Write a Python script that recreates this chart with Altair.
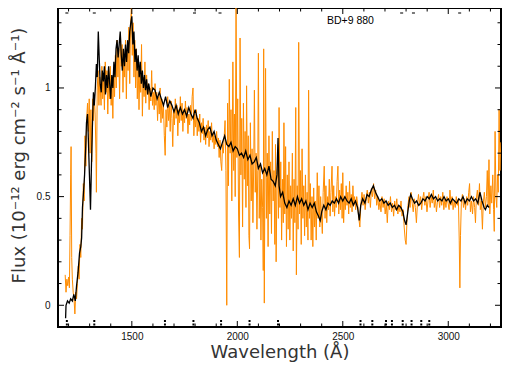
import altair as alt
import pandas as pd

# ---------------- data ----------------
black_wl = [1186, 1188, 1195, 1203, 1210, 1218, 1225, 1232, 1238, 1245, 1252, 1258, 1262, 1266, 1271,
            1276, 1281, 1285, 1290, 1294, 1299, 1304, 1308, 1313, 1318, 1322, 1327, 1332, 1336, 1341,
            1346, 1350, 1355, 1360, 1365, 1370, 1375, 1380, 1385, 1390, 1395, 1400, 1405, 1410, 1415,
            1420, 1425, 1430, 1435, 1440, 1445, 1450, 1455, 1460, 1465, 1470, 1475, 1480, 1485, 1490,
            1495, 1500, 1505, 1510, 1515, 1520, 1525, 1530, 1535, 1540, 1545, 1550, 1555, 1560, 1565,
            1570, 1575, 1580, 1590, 1600, 1610, 1620, 1630, 1640, 1650, 1660, 1670, 1680, 1690, 1700,
            1710, 1720, 1730, 1740, 1750, 1760, 1770, 1780, 1790, 1800, 1810, 1820, 1830, 1840, 1850,
            1860, 1870, 1880, 1890, 1900, 1910, 1920, 1930, 1940, 1950, 1960, 1970, 1980, 1990, 2000,
            2010, 2020, 2030, 2040, 2050, 2060, 2070, 2080, 2090, 2100, 2110, 2120, 2130, 2140, 2150,
            2160, 2170, 2180, 2188, 2193, 2198, 2205, 2215, 2225, 2235, 2245, 2255, 2265, 2275, 2285,
            2295, 2305, 2315, 2325, 2335, 2345, 2355, 2365, 2375, 2385, 2393, 2400, 2410, 2420, 2430,
            2440, 2450, 2460, 2470, 2480, 2490, 2500, 2510, 2520, 2530, 2540, 2550, 2560, 2570, 2578,
            2585, 2594, 2605, 2615, 2625, 2635, 2645, 2655, 2665, 2675, 2685, 2695, 2705, 2715, 2725,
            2735, 2745, 2755, 2765, 2775, 2785, 2793, 2800, 2807, 2815, 2822, 2830, 2840, 2850, 2860,
            2870, 2880, 2890, 2900, 2910, 2920, 2930, 2940, 2950, 2960, 2970, 2980, 2990, 3000, 3010,
            3020, 3030, 3040, 3050, 3060, 3070, 3080, 3090, 3100, 3110, 3120, 3130, 3140, 3150, 3160,
            3170, 3176, 3185, 3194]
black_flux = [-0.06, 0.00, 0.02, 0.01, 0.03, 0.02, 0.05, 0.02, 0.09, 0.15, 0.24, 0.27, 0.31, 0.45, 0.52,
              0.60, 0.72, 0.84, 0.88, 0.76, 0.60, 0.44, 0.62, 0.82, 0.98, 0.92, 1.00, 1.11, 1.05, 1.26,
              1.12, 1.02, 0.98, 1.08, 1.03, 1.10, 0.97, 1.06, 1.00, 1.10, 1.02, 0.95, 1.06, 1.00, 1.12,
              1.05, 1.18, 1.22, 1.14, 1.20, 1.26, 1.15, 1.08, 1.18, 1.10, 1.20, 1.12, 1.22, 1.16, 1.26,
              1.30, 1.33, 1.20, 1.26, 1.12, 1.18, 1.08, 1.15, 1.05, 1.12, 1.02, 1.08, 1.00, 1.06, 0.99,
              1.04, 0.97, 1.02, 0.96, 1.00, 0.99, 0.95, 0.98, 0.95, 0.92, 0.96, 0.91, 0.94, 0.92, 0.89,
              0.92, 0.88, 0.91, 0.88, 0.90, 0.87, 0.91, 0.88, 0.86, 0.90, 0.86, 0.84, 0.80, 0.82, 0.78,
              0.81, 0.82, 0.78, 0.80, 0.76, 0.74, 0.72, 0.75, 0.78, 0.74, 0.73, 0.75, 0.71, 0.73, 0.72,
              0.69, 0.70, 0.68, 0.71, 0.67, 0.69, 0.65, 0.66, 0.68, 0.63, 0.65, 0.61, 0.63, 0.60, 0.64,
              0.58, 0.57, 0.55, 0.60, 0.77, 0.55, 0.50, 0.52, 0.47, 0.45, 0.48, 0.46, 0.49, 0.46, 0.50,
              0.47, 0.49, 0.46, 0.48, 0.44, 0.47, 0.45, 0.47, 0.43, 0.41, 0.39, 0.43, 0.46, 0.44, 0.47,
              0.46, 0.48, 0.47, 0.49, 0.47, 0.50, 0.48, 0.50, 0.48, 0.47, 0.49, 0.46, 0.48, 0.45, 0.39,
              0.46, 0.49, 0.47, 0.51, 0.50, 0.53, 0.55, 0.52, 0.50, 0.48, 0.49, 0.47, 0.48, 0.46, 0.47,
              0.45, 0.46, 0.44, 0.46, 0.45, 0.43, 0.39, 0.37, 0.42, 0.48, 0.51, 0.49, 0.47, 0.48, 0.46,
              0.47, 0.49, 0.48, 0.50, 0.49, 0.51, 0.49, 0.50, 0.48, 0.49, 0.48, 0.50, 0.48, 0.49, 0.47,
              0.49, 0.48, 0.47, 0.49, 0.48, 0.50, 0.47, 0.49, 0.48, 0.50, 0.48, 0.49, 0.47, 0.52, 0.48,
              0.45, 0.44, 0.46, 0.45]

orange_wl = [1184, 1188, 1192, 1196, 1200, 1204, 1207, 1210, 1212, 1215, 1218, 1222, 1226, 1230, 1234,
             1238, 1242, 1246, 1250, 1254, 1258, 1262, 1266, 1270, 1274, 1278, 1282, 1286, 1290, 1294,
             1298, 1302, 1306, 1310, 1314, 1318, 1322, 1326, 1330, 1332, 1336, 1340, 1344, 1348,
             1354, 1358, 1362, 1366, 1370, 1374, 1378, 1382, 1386, 1390, 1394, 1398, 1402, 1406, 1410,
             1414, 1418, 1422, 1426, 1430, 1434, 1438, 1442, 1446, 1450, 1454, 1458, 1462, 1466, 1470,
             1474, 1478, 1482, 1486, 1490, 1494, 1498, 1502, 1506, 1510, 1514, 1518, 1522, 1526, 1530,
             1534, 1538, 1542, 1546, 1550, 1554, 1558, 1562, 1566, 1570, 1574, 1578, 1582, 1586, 1590,
             1594, 1598, 1602, 1606, 1610, 1614, 1618, 1622, 1626, 1630, 1634, 1638, 1642, 1646, 1650,
             1654, 1658, 1662, 1666, 1670, 1674, 1678, 1682, 1686, 1690, 1694, 1698, 1702, 1706, 1710,
             1714, 1718, 1722, 1726, 1730, 1734, 1738, 1742, 1746, 1750, 1754, 1758, 1762, 1766, 1770,
             1774, 1778, 1782, 1786, 1790, 1794, 1798, 1802, 1806, 1810, 1814, 1818, 1822, 1826, 1830,
             1834, 1838, 1842, 1846, 1850, 1854, 1858, 1862, 1866, 1870, 1874, 1878, 1882, 1886, 1890,
             1894, 1898, 1902, 1906, 1910, 1914, 1918, 1922, 1926, 1930, 1934, 1938, 1942, 1946, 1950,
             1954, 1958, 1962, 1966, 1970, 1974, 1979, 1983, 1987, 1990, 1994, 1998, 2002, 2006, 2010,
             2013, 2017, 2021, 2025, 2029, 2033, 2037, 2041, 2044, 2048, 2052, 2055, 2058, 2062, 2066,
             2070, 2074, 2078, 2081, 2085, 2089, 2093, 2097, 2100, 2104, 2108, 2112, 2116, 2120, 2123,
             2125, 2128, 2131, 2134, 2138, 2142, 2146, 2150, 2154, 2158, 2162, 2166, 2170, 2174, 2178,
             2181, 2184, 2188, 2192, 2195, 2198, 2202, 2206, 2210, 2214, 2218, 2221, 2225, 2229, 2233,
             2237, 2241, 2245, 2249, 2253, 2257, 2261, 2265, 2269, 2273, 2277, 2280, 2284, 2288, 2291,
             2295, 2299, 2303, 2307, 2311, 2315, 2319, 2323, 2327, 2331, 2335, 2338, 2342, 2346, 2350,
             2354, 2358, 2362, 2366, 2370, 2374, 2379, 2383, 2387, 2391, 2395, 2399, 2403, 2407, 2412,
             2416, 2420, 2424, 2428, 2432, 2436, 2440, 2444, 2449, 2453, 2457, 2461, 2465, 2469, 2473,
             2477, 2481, 2485, 2489, 2493, 2497, 2500, 2504, 2508, 2512, 2516, 2520, 2524, 2528, 2532,
             2536, 2540, 2544, 2548, 2552, 2556, 2561, 2566, 2571, 2576, 2581, 2586, 2591, 2596, 2601,
             2606, 2611, 2616, 2621, 2626, 2631, 2636, 2641, 2646, 2651, 2656, 2661, 2666, 2671, 2676,
             2681, 2686, 2691, 2696, 2701, 2706, 2711, 2716, 2721, 2726, 2731, 2736, 2741, 2746, 2751,
             2756, 2761, 2766, 2771, 2776, 2781, 2786, 2791, 2796, 2800, 2804, 2809, 2814, 2819, 2824,
             2829, 2834, 2839, 2844, 2849, 2854, 2859, 2864, 2869, 2874, 2879, 2884, 2889, 2894, 2899,
             2904, 2909, 2914, 2919, 2924, 2929, 2934, 2939, 2944, 2949, 2954, 2959, 2964, 2969, 2974,
             2979, 2984, 2989, 2994, 2999, 3004, 3008, 3013, 3018, 3023, 3028, 3033, 3038, 3043, 3048,
             3052, 3055, 3058, 3062, 3067, 3072, 3077, 3082, 3087, 3092, 3097, 3101, 3105, 3110, 3115,
             3120, 3125, 3129, 3133, 3138, 3143, 3148, 3152, 3157, 3162, 3166, 3171, 3176, 3181, 3185,
             3189, 3193, 3197, 3202, 3206, 3211, 3215, 3218, 3222, 3226, 3230, 3233, 3237, 3241, 3245,
             3249]
orange_flux = [0.14, 0.06, 0.12, 0.09, 0.13, 0.08, 0.32, 0.60, 0.73, 0.22, 0.12, 0.06, 0.03, -0.04, 0.06,
               0.03, 0.10, 0.18, 0.12, 0.28, 0.22, 0.40, 0.35, 0.56, 0.48, 0.78, 0.64, 0.86, 0.93, 0.80,
               0.95, 0.70, 0.90, 0.66, 0.95, 0.85, 0.96, 0.88, 0.70, 0.52, 1.00, 1.08, 0.92, 1.05,
               0.92, 1.10, 0.95, 1.05, 0.90, 1.12, 0.98, 1.08, 0.88, 1.04, 0.95, 1.10, 0.92, 1.02, 0.86,
               1.08, 0.96, 1.15, 1.00, 1.22, 1.05, 1.18, 0.95, 1.25, 1.10, 1.20, 0.98, 1.15, 1.05, 1.22,
               0.95, 1.18, 1.08, 1.28, 1.02, 1.30, 1.37, 1.15, 1.30, 1.05, 1.22, 1.00, 1.18, 0.95, 1.12,
               0.90, 1.08, 0.98, 1.20, 0.87, 1.05, 0.96, 1.12, 0.93, 1.06, 0.97, 1.02, 0.90, 1.00, 0.94,
               1.08, 0.92, 0.98, 0.90, 1.02, 0.92, 0.98, 0.85, 0.96, 0.88, 1.00, 0.84, 0.95, 0.86, 0.92,
               0.78, 0.69, 0.90, 0.82, 0.96, 0.85, 0.92, 0.80, 0.94, 0.86, 0.73, 0.90, 0.83, 0.95, 0.86,
               0.92, 0.78, 0.90, 0.84, 0.96, 0.85, 0.93, 0.80, 0.90, 0.84, 0.94, 0.86, 0.91, 0.79, 0.88,
               0.83, 0.92, 0.85, 0.96, 1.00, 0.78, 0.88, 0.82, 0.90, 0.78, 0.86, 0.80, 0.88, 0.75, 0.84,
               0.79, 0.86, 0.76, 0.82, 0.74, 0.83, 0.77, 0.85, 0.73, 0.80, 0.76, 0.84, 0.75, 0.79, 0.72,
               0.78, 0.74, 0.80, 0.73, 0.77, 0.68, 0.76, 0.66, 0.62, 0.74, 0.70, 0.78, 0.85, 0.62, 0.00,
               0.93, 0.55, 1.04, 0.70, 0.90, 0.48, 1.12, 0.62, 0.88, 0.50, 1.42, 0.68, 0.95, 0.42, 0.22,
               1.23, 0.60, 0.86, 0.36, 0.93, 0.58, 0.80, 0.45, 1.01, 0.55, 0.78, 0.32, 0.26, 0.84, 0.48,
               0.72, 0.38, 0.66, 0.99, 0.52, 0.70, 0.35, 0.62, 1.16, 0.40, 0.64, 0.30, 0.58, 0.45, 0.16,
               1.18, 0.01, 0.62, 1.09, 0.40, 0.70, 0.27, 0.78, 0.42, 0.66, 0.33, 0.80, 0.48, 0.62, 0.28,
               0.74, 0.20, 0.58, 0.70, 0.40, 0.91, 0.45, 0.66, 0.30, 0.58, 0.38, 0.84, 0.42, 0.73, 0.27,
               0.60, 0.35, 0.66, 0.30, 0.55, 0.40, 0.70, 0.25, 0.58, 0.38, 0.91, 0.14, 0.55, 0.35, 1.21,
               0.42, 0.62, 0.28, 0.72, 0.40, 0.55, 0.32, 0.60, 0.36, 0.52, 0.30, 0.99, 0.40, 0.56, 0.30,
               0.50, 0.27, 0.54, 0.36, 0.48, 0.30, 0.61, 0.40, 0.55, 0.36, 0.50, 0.42, 0.33, 0.52, 0.64,
               0.40, 0.55, 0.38, 0.50, 0.44, 0.58, 0.41, 0.52, 0.64, 0.43, 0.55, 0.41, 0.50, 0.45, 0.57,
               0.64, 0.42, 0.53, 0.44, 0.56, 0.40, 0.61, 0.38, 0.50, 0.44, 0.55, 0.46, 0.52, 0.42, 0.57,
               0.45, 0.51, 0.43, 0.55, 0.46, 0.50, 0.44, 0.50, 0.46, 0.40, 0.36, 0.47, 0.52, 0.46, 0.51,
               0.44, 0.49, 0.53, 0.47, 0.52, 0.45, 0.54, 0.50, 0.56, 0.49, 0.53, 0.46, 0.50, 0.44, 0.48,
               0.43, 0.50, 0.45, 0.49, 0.42, 0.47, 0.38, 0.48, 0.44, 0.50, 0.43, 0.47, 0.41, 0.48, 0.44,
               0.49, 0.42, 0.46, 0.43, 0.48, 0.41, 0.44, 0.36, 0.30, 0.28, 0.38, 0.46, 0.50, 0.45, 0.52,
               0.47, 0.43, 0.49, 0.45, 0.38, 0.47, 0.51, 0.46, 0.50, 0.44, 0.49, 0.52, 0.46, 0.50, 0.43,
               0.48, 0.52, 0.45, 0.50, 0.47, 0.53, 0.45, 0.49, 0.43, 0.48, 0.51, 0.45, 0.50, 0.46, 0.52,
               0.44, 0.49, 0.45, 0.50, 0.47, 0.44, 0.53, 0.46, 0.50, 0.44, 0.48, 0.45, 0.50, 0.46, 0.49,
               0.30, 0.08, 0.32, 0.47, 0.51, 0.45, 0.49, 0.44, 0.50, 0.46, 0.52, 0.56, 0.43, 0.48, 0.42,
               0.50, 0.45, 0.38, 0.49, 0.53, 0.46, 0.56, 0.44, 0.48, 0.35, 0.47, 0.52, 0.45, 0.50, 0.62,
               0.46, 0.67, 0.42, 0.55, 0.47, 0.60, 0.44, 0.34, 0.80, 0.50, 0.45, 0.60, 0.52, 0.90, 0.62,
               0.75]

# axis tick values
x_major = [1500, 2000, 2500, 3000]
x_minor = [1200, 1300, 1400, 1600, 1700, 1800, 1900, 2100, 2200, 2300, 2400, 2600, 2700, 2800,
           2900, 3100, 3200]
y_major = [0, 0.5, 1]
y_minor = [0.1, 0.2, 0.3, 0.4, 0.6, 0.7, 0.8, 0.9, 1.1, 1.2, 1.3]

# flagged wavelengths marked along the bottom and top edges
flags_bottom = [1192, 1322, 1657, 1792, 1923, 2058, 2193, 2584, 2640, 2705, 2733, 2784, 2826, 2872, 2910]
flags_top = [1192, 1322, 1797, 1918, 2779, 2835, 3054]

label_text = ["BD+9  880"]
label_wl = [2425]
label_flux = [1.294]

# ---------------- chart ----------------
W, H = 443, 319
xs = alt.Scale(domain=[1150, 3250], nice=False, zero=False)
ys = alt.Scale(domain=[-0.1, 1.368], nice=False, zero=False)

x_axis = alt.Axis(values=x_major, format="d", title="Wavelength (Å)", labelPadding=4,
                  titleX=W / 2, titleY=25, titleAlign="center", titleBaseline="middle")
y_axis = alt.Axis(values=y_major, format="~g", title="Flux  (10⁻¹²  erg  cm⁻²  s⁻¹   Å⁻¹)",
                  labelPadding=8, titleX=-39, titleY=147, titleAngle=270,
                  titleAlign="center", titleBaseline="middle")


def X(field):
    return alt.X(field, scale=xs, axis=x_axis)


def Y(field):
    return alt.Y(field, scale=ys, axis=y_axis)


df_o = pd.DataFrame({"wl": orange_wl, "flux": orange_flux})
df_b = pd.DataFrame({"wl": black_wl, "flux": black_flux})

orange = alt.Chart(df_o).mark_line(color="#FF8C00", strokeWidth=1, clip=True).encode(
    x=X("wl:Q"), y=Y("flux:Q"), order="wl:Q")
black = alt.Chart(df_b).mark_line(color="black", strokeWidth=1.3, clip=True).encode(
    x=X("wl:Q"), y=Y("flux:Q"), order="wl:Q")


def xticks(vals, length):
    d = alt.Chart(pd.DataFrame({"v": vals}))
    bot = d.mark_rule(color="black", strokeWidth=1).encode(x=X("v:Q"), y=alt.value(H), y2=alt.value(H - length))
    top = d.mark_rule(color="black", strokeWidth=1).encode(x=X("v:Q"), y=alt.value(0), y2=alt.value(length))
    return [bot, top]


def yticks(vals, length):
    d = alt.Chart(pd.DataFrame({"v": vals}))
    left = d.mark_rule(color="black", strokeWidth=1).encode(y=Y("v:Q"), x=alt.value(0), x2=alt.value(length))
    right = d.mark_rule(color="black", strokeWidth=1).encode(y=Y("v:Q"), x=alt.value(W), x2=alt.value(W - length))
    return [left, right]


ticks = xticks(x_major, 6) + xticks(x_minor, 3.5) + yticks(y_major, 6) + yticks(y_minor, 3.5)

fb = alt.Chart(pd.DataFrame({"v": flags_bottom}))
flag_layers = [
    fb.mark_square(color="black", size=4, opacity=1).encode(x=X("v:Q"), y=alt.value(H - 6)),
    fb.mark_square(color="black", size=4, opacity=1).encode(x=X("v:Q"), y=alt.value(H - 2.5)),
]
ft = alt.Chart(pd.DataFrame({"v": flags_top}))
flag_layers.append(
    ft.mark_tick(color="black", orient="horizontal", size=3, thickness=1.5).encode(
        x=X("v:Q"), y=alt.value(5))
)

label = alt.Chart(pd.DataFrame({"t": label_text, "wl": label_wl, "flux": label_flux})).mark_text(
    align="left", baseline="alphabetic", font="Liberation Sans", fontSize=10.5, color="black"
).encode(x=X("wl:Q"), y=Y("flux:Q"), text="t:N")

chart = alt.layer(orange, black, *ticks, *flag_layers, label).properties(
    width=W, height=H,
    padding={"left": 50, "top": 0, "right": 1, "bottom": 35},
    autosize=alt.AutoSizeParams(type="none"),
).configure_view(
    stroke="black", strokeWidth=2
).configure_axis(
    grid=False, ticks=False, domain=False, tickSize=0,
    labelFont="Liberation Sans", labelFontSize=10, labelColor="#111",
    titleFont="DejaVu Sans", titleFontSize=18, titleColor="#333", titleFontWeight="normal",
)

chart.save("out.html", embed_options={"renderer": "svg", "actions": False})
